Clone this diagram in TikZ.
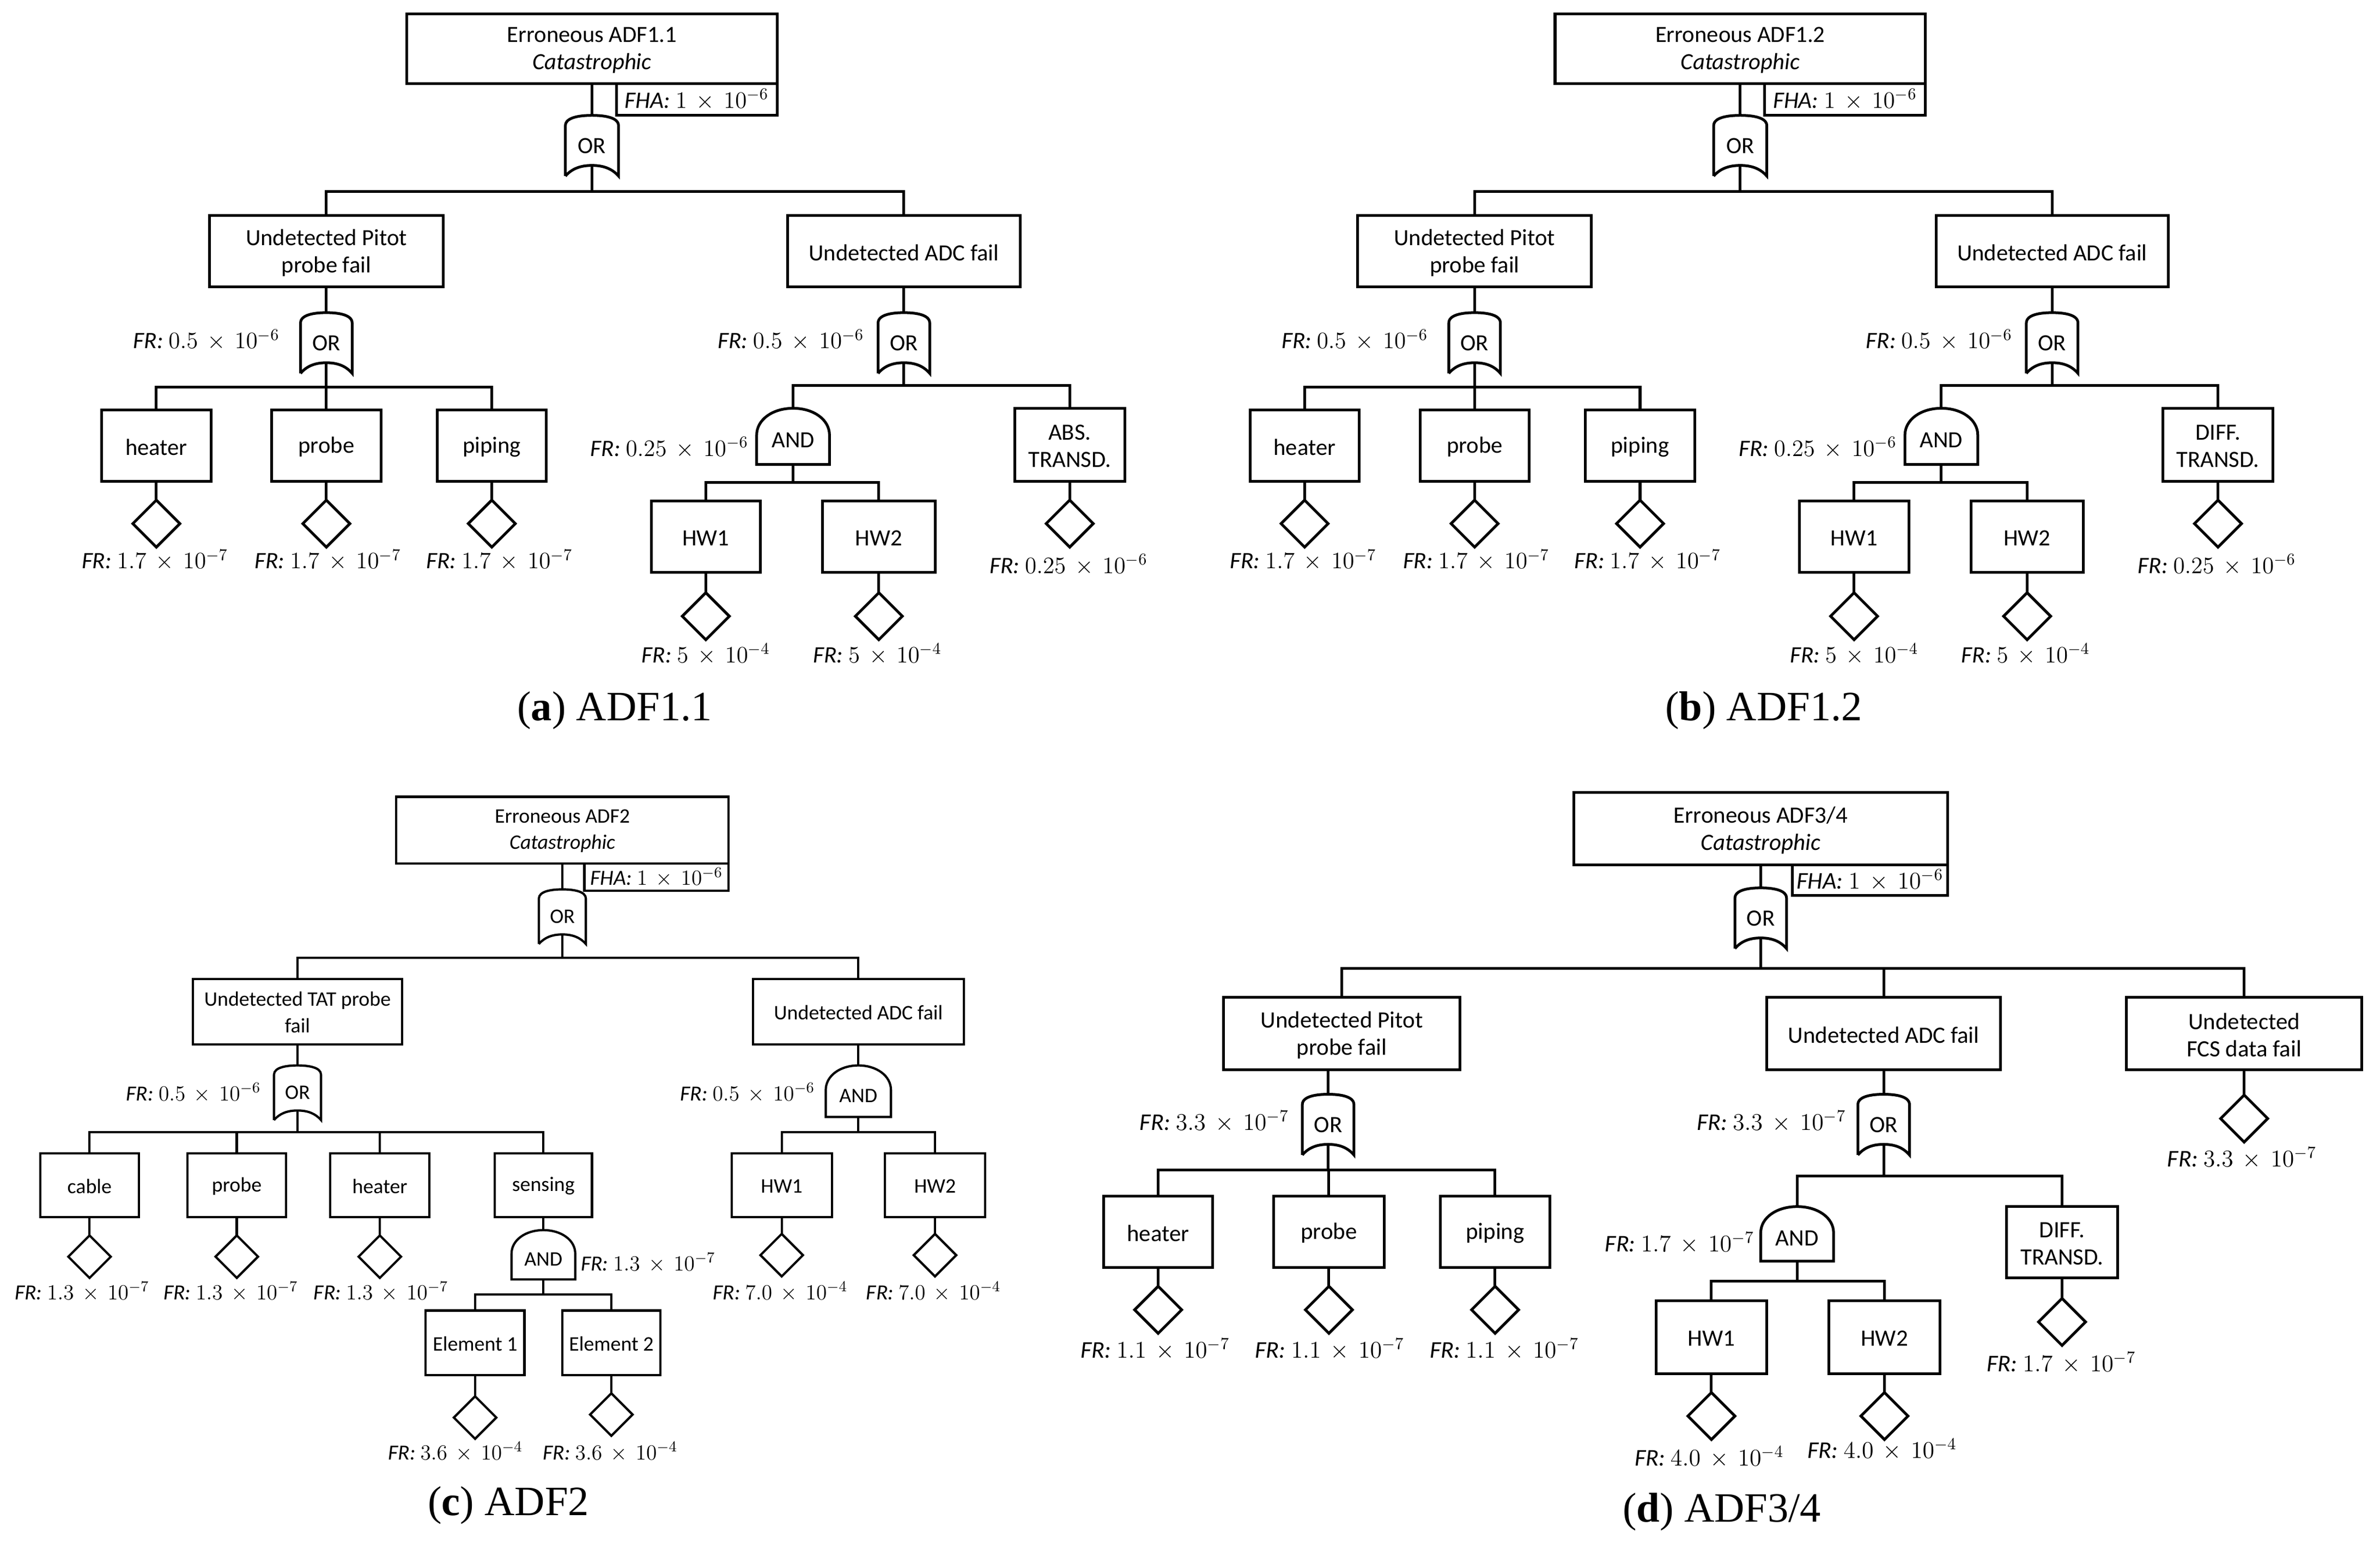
\RequirePackage{fix-cm}
\documentclass[tikz,border=0pt]{standalone}
\usepackage{fontspec}
\setmainfont{Carlito}
\newfontfamily\capfont{Liberation Serif}
\usetikzlibrary{shapes.geometric}
\tikzset{
  ftbox/.style={draw,rectangle,inner sep=0pt,outer sep=0pt},
  fttxt/.style={inner sep=0pt,outer sep=0pt,align=center,font=\ftsize},
  ftdia/.style={draw,diamond,aspect=1,inner sep=0pt,outer sep=0pt,minimum width=\ftdsize,minimum height=\ftdsize},
  ftgate/.style={rectangle,inner sep=0pt,outer sep=0pt},
  ftlab/.style={inner sep=0pt,outer sep=0pt,font=\ftlabsize},
  ftcap/.style={inner sep=0pt,outer sep=0pt,font=\capfont\fontsize{27.5}{30}\selectfont},
}
\newcommand\ftb[6]{%
  \pgfmathsetmacro\ftW{#4-#2}\pgfmathsetmacro\ftH{#5-#3}%
  \node[ftbox,minimum width=\ftW pt,minimum height=\ftH pt] (#1) at ({(#2+#4)/2},{(#3+#5)/2}) {};
  \node[fttxt] (#1-t) at ({(#2+#4)/2},{(#3+#5)/2+\ftdy}) {#6};}
\newcommand\ftd[3]{\node[ftdia] (#1) at (#2,#3) {};}
\newcommand\ftl[5]{\node[ftlab] (#1) at (#2,#3) {\textit{FR:} \(#4\,\times\,10^{-#5}\)};}
\newcommand\ftfha[5]{%
  \pgfmathsetmacro\ftW{#4-#2}\pgfmathsetmacro\ftH{#5-#3}%
  \node[ftbox,minimum width=\ftW pt,minimum height=\ftH pt,font=\ftlabsize] (#1) at ({(#2+#4)/2},{(#3+#5)/2}) {\textit{FHA:} \(1\,\times\,10^{-6}\)};}
\newcommand\ftor[5]{% name cx top w h
  \pgfmathsetmacro\ftL{#2-#4/2}\pgfmathsetmacro\ftR{#2+#4/2}\pgfmathsetmacro\ftB{#3+#5}%
  \pgfmathsetmacro\ftS{#3+.17*#5}\pgfmathsetmacro\ftT{#3+.03*#5}\pgfmathsetmacro\ftA{\ftB-.175*#5}\pgfmathsetmacro\ftC{\ftB-.12*#5}%
  \pgfmathsetmacro\ftLa{#2-.22*#4}\pgfmathsetmacro\ftRa{#2+.22*#4}%
  \pgfmathsetmacro\ftLb{\ftL+.12*#4}\pgfmathsetmacro\ftRb{\ftR-.12*#4}\pgfmathsetmacro\ftY{#3+#5/2}%
  \pgfmathsetmacro\ftW{#4}\pgfmathsetmacro\ftH{#5}%
  \node[ftgate,minimum width=\ftW pt,minimum height=\ftH pt] (#1) at (#2,\ftY) {};
  \node[fttxt] (#1-t) at (#2,\ftY) {OR};
  \coordinate (#1-o) at (#2,\ftA);
  \draw (\ftL,\ftB) -- (\ftL,\ftS) .. controls (\ftL,\ftT) and (\ftLa,#3) .. (#2,#3)
    .. controls (\ftRa,#3) and (\ftR,\ftT) .. (\ftR,\ftS) -- (\ftR,\ftB)
    .. controls (\ftRb,\ftC) and (\ftRa,\ftA) .. (#2,\ftA)
    .. controls (\ftLa,\ftA) and (\ftLb,\ftC) .. (\ftL,\ftB);}
\newcommand\ftand[6]{% name cx top w h textdy
  \pgfmathsetmacro\ftL{#2-#4/2}\pgfmathsetmacro\ftR{#2+#4/2}\pgfmathsetmacro\ftB{#3+#5}%
  \pgfmathsetmacro\ftS{#3+.48*#5}\pgfmathsetmacro\ftT{#3+.2*#5}%
  \pgfmathsetmacro\ftLa{#2-.28*#4}\pgfmathsetmacro\ftRa{#2+.28*#4}\pgfmathsetmacro\ftY{#3+#5/2}%
  \pgfmathsetmacro\ftW{#4}\pgfmathsetmacro\ftH{#5}\pgfmathsetmacro\ftZ{\ftY+#6}%
  \node[ftgate,minimum width=\ftW pt,minimum height=\ftH pt] (#1) at (#2,\ftY) {};
  \node[fttxt] (#1-t) at (#2,\ftZ) {AND};
  \coordinate (#1-o) at (#2,\ftB);
  \draw (\ftL,\ftS) .. controls (\ftL,\ftT) and (\ftLa,#3) .. (#2,#3)
    .. controls (\ftRa,#3) and (\ftR,\ftT) .. (\ftR,\ftS) -- (\ftR,\ftB) -- (\ftL,\ftB) -- cycle;}
\newcommand\ftfork[3]{\foreach \ftc in {#3}{\draw (#1) -- (#1 |- 0,#2) -| (\ftc.north);}}
\newcommand\ftlink[2]{\draw (#1.south) -- (#2.north);}
\newcommand\ftpanelAB[4]{%
  \ftb{top}{268}{9}{512}{55}{Erroneous #1\\\textit{Catastrophic}}
  \ftfha{fha}{406}{55}{512}{76}
  \ftor{g0}{390}{76}{35}{40}
  \ftlink{top}{g0}
  \ftb{pit}{138}{142}{292}{189}{Undetected Pitot\\probe fail}
  \ftb{adc}{519}{142}{672}{189}{Undetected ADC fail}
  \ftfork{g0-o}{126}{pit,adc}
  \ftor{g1}{215}{206}{34}{40}
  \ftlink{pit}{g1}
  \ftl{l1}{136}{224}{0.5}{6}
  \ftb{hea}{67}{270}{139}{317}{heater}
  \ftb{pro}{179}{270}{251}{317}{probe}
  \ftb{pip}{288}{270}{360}{317}{piping}
  \ftfork{g1-o}{255}{hea,pro,pip}
  \ftd{d1}{103}{345}\ftd{d2}{215}{345}\ftd{d3}{324}{345}
  \ftlink{hea}{d1}\ftlink{pro}{d2}\ftlink{pip}{d3}
  \ftl{l2}{102}{369}{1.7}{7}\ftl{l3}{216}{369}{1.7}{7}\ftl{l4}{329}{369}{1.7}{7}
  \ftor{g2}{595.5}{206}{34}{40}
  \ftlink{adc}{g2}
  \ftl{l5}{521}{224}{0.5}{6}
  \ftand{g3}{522.5}{269}{48}{37}{2.5}
  \ftb{abs}{668.5}{269}{741}{317}{#2}
  \ftfork{g2-o}{254}{g3,abs}
  \ftl{l6}{441}{295}{0.25}{6}
  \ftb{hw1}{429}{330}{501}{377}{HW1}
  \ftb{hw2}{542}{330}{616}{377}{HW2}
  \ftfork{g3-o}{318}{hw1,hw2}
  \ftd{d4}{465}{406}\ftd{d5}{579}{406}\ftd{d6}{704.75}{345}
  \ftlink{hw1}{d4}\ftlink{hw2}{d5}\ftlink{abs}{d6}
  \ftl{l7}{465}{431}{5}{4}\ftl{l8}{578}{431}{5}{4}\ftl{l9}{704}{372}{0.25}{6}
  \node[ftcap] (cap) at (#3,468) {(\textbf{#4}) #1};
}
\begin{document}
\begin{tikzpicture}[x=1pt,y=-1pt]
\useasboundingbox (0,0) rectangle (1568,1021);
\def\ftsize{\fontsize{15.3}{18}\selectfont}
\def\ftlabsize{\fontsize{15.5}{18}\selectfont}
\def\ftdsize{31pt}
\def\ftdy{1}
\begin{scope}[line width=1.8pt,name prefix=a-]
  \ftpanelAB{ADF1.1}{ABS.\\TRANSD.}{405}{a}
\end{scope}
\begin{scope}[line width=1.8pt,name prefix=b-,xshift=756.5pt]
  \ftpanelAB{ADF1.2}{DIFF.\\TRANSD.}{405.5}{b}
\end{scope}
%
\begin{scope}[line width=1.5pt,name prefix=c-]
  \def\ftsize{\fontsize{13.6}{17.5}\selectfont}
  \def\ftlabsize{\fontsize{14.2}{17}\selectfont}
  \def\ftdsize{28pt}
  \def\ftdy{0.5}
  \ftb{top}{261}{525}{480}{569}{Erroneous ADF2\\\textit{Catastrophic}}
  \ftfha{fha}{385}{569}{480}{587}
  \ftor{g0}{370.5}{586}{31}{36}
  \ftlink{top}{g0}
  \ftb{tat}{127}{645}{265}{688}{Undetected TAT probe\\fail}
  \ftb{adc}{496}{645}{635}{688}{Undetected ADC fail}
  \ftfork{g0-o}{631}{tat,adc}
  \ftor{g1}{196}{702}{31}{36}
  \ftlink{tat}{g1}
  \ftl{l1}{127.5}{720}{0.5}{6}
  \ftb{cab}{26.5}{760}{91.5}{802}{cable}
  \ftb{pro}{123.5}{760}{188.5}{802}{probe}
  \ftb{hea}{217.5}{760}{283}{802}{heater}
  \ftb{sen}{326}{760}{390}{802}{sensing}
  \ftfork{g1-o}{746}{cab,pro,hea,sen}
  \ftd{d1}{59}{828}\ftd{d2}{156}{828}\ftd{d3}{250.25}{828}
  \ftlink{cab}{d1}\ftlink{pro}{d2}\ftlink{hea}{d3}
  \ftl{l2}{54}{851}{1.3}{7}\ftl{l3}{152}{851}{1.3}{7}\ftl{l4}{251}{851}{1.3}{7}
  \ftand{g2}{358}{810.5}{42}{32.5}{3}
  \ftlink{sen}{g2}
  \ftl{l5}{427}{832}{1.3}{7}
  \ftb{el1}{280.5}{863.5}{345.5}{906}{Element 1}
  \ftb{el2}{370.5}{863.5}{435}{906}{Element 2}
  \ftfork{g2-o}{853}{el1,el2}
  \ftd{d4}{313}{934}\ftd{d5}{402.75}{932}
  \ftlink{el1}{d4}\ftlink{el2}{d5}
  \ftl{l6}{300}{956.5}{3.6}{4}\ftl{l7}{402}{956.5}{3.6}{4}
  \ftand{g3}{565.5}{702}{43}{34}{3}
  \ftlink{adc}{g3}
  \ftl{l8}{492.5}{720}{0.5}{6}
  \ftb{hw1}{482}{760}{548}{802}{HW1}
  \ftb{hw2}{583}{760}{649}{802}{HW2}
  \ftfork{g3-o}{746}{hw1,hw2}
  \ftd{d6}{515}{827}\ftd{d7}{616}{827}
  \ftlink{hw1}{d6}\ftlink{hw2}{d7}
  \ftl{l9}{514}{851}{7.0}{4}\ftl{l10}{615}{851}{7.0}{4}
  \node[ftcap] (cap) at (335,992) {(\textbf{c}) ADF2};
\end{scope}
%
\begin{scope}[line width=1.8pt,name prefix=d-]
  \def\ftsize{\fontsize{15.4}{18}\selectfont}
  \def\ftlabsize{\fontsize{15.8}{18}\selectfont}
  \ftb{top}{1037}{522}{1283}{570}{Erroneous ADF3/4\\\textit{Catastrophic}}
  \ftfha{fha}{1181}{570}{1283}{590}
  \ftor{g0}{1160}{585}{34}{40}
  \ftlink{top}{g0}
  \ftb{pit}{806}{657}{962}{705}{Undetected Pitot\\probe fail}
  \ftb{adc}{1164}{657}{1318}{705}{Undetected ADC fail}
  \ftb{fcs}{1401}{657}{1556}{705}{Undetected\\FCS data fail}
  \ftfork{g0-o}{638}{pit,adc,fcs}
  \ftd{d0}{1478.5}{737}\ftlink{fcs}{d0}
  \ftl{l0}{1477}{763}{3.3}{7}
  \ftor{g1}{875}{721}{34}{40}
  \draw (g1.north) -- (g1.north |- pit.south);
  \ftl{l1}{800}{739}{3.3}{7}
  \ftb{hea}{727}{788}{799}{835}{heater}
  \ftb{pro}{839}{788}{912}{835}{probe}
  \ftb{pip}{949}{788}{1021}{835}{piping}
  \ftfork{g1-o}{771}{hea,pro,pip}
  \ftd{d1}{763}{863}\ftd{d2}{875.5}{863}\ftd{d3}{985}{863}
  \ftlink{hea}{d1}\ftlink{pro}{d2}\ftlink{pip}{d3}
  \ftl{l2}{761}{889}{1.1}{7}\ftl{l3}{876}{889}{1.1}{7}\ftl{l4}{991}{889}{1.1}{7}
  \ftor{g2}{1241}{721}{34}{40}
  \ftlink{adc}{g2}
  \ftl{l5}{1167}{739}{3.3}{7}
  \ftand{g3}{1184}{795}{48}{36}{3}
  \ftb{dif}{1322}{795}{1395}{842}{DIFF.\\TRANSD.}
  \ftfork{g2-o}{775}{g3,dif}
  \ftl{l6}{1106.5}{819}{1.7}{7}
  \ftd{d4}{1358.5}{871}\ftlink{dif}{d4}
  \ftl{l7}{1358}{898}{1.7}{7}
  \ftb{hw1}{1091}{857}{1164}{905}{HW1}
  \ftb{hw2}{1205}{857}{1278}{905}{HW2}
  \ftfork{g3-o}{844}{hw1,hw2}
  \ftd{d5}{1127.5}{933}\ftd{d6}{1241.5}{933}
  \ftlink{hw1}{d5}\ftlink{hw2}{d6}
  \ftl{l8}{1126}{960}{4.0}{4}\ftl{l9}{1240}{955}{4.0}{4}
  \node[ftcap] (cap) at (1134.5,996) {(\textbf{d}) ADF3/4};
\end{scope}
\end{tikzpicture}
\end{document}
